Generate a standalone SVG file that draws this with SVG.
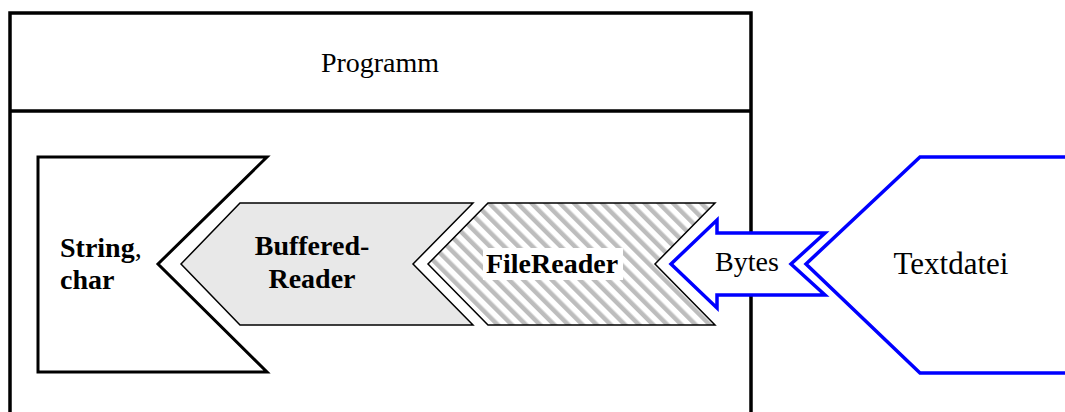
<svg xmlns="http://www.w3.org/2000/svg" width="1065" height="412" viewBox="0 0 1065 412">
  <defs>
    <pattern id="hatch" width="10" height="10" patternUnits="userSpaceOnUse" patternTransform="rotate(-45)">
      <rect width="10" height="10" fill="#ffffff"/>
      <rect x="0" y="0" width="4.5" height="10" fill="#bdbdbd"/>
    </pattern>
    <style>
      .frame { fill: none; stroke: #000; stroke-width: 3.5; }
      .serif { font-family: "Liberation Serif", "Times New Roman", serif; font-size: 28px; fill: #000; }
      .bold { font-weight: bold; }
      .big { font-size: 31px; }
      .blue { fill: #fff; stroke: #0000ff; stroke-width: 3.5; stroke-linejoin: miter; }
    </style>
  </defs>
  <rect width="1065" height="412" fill="#ffffff"/>

  <g id="programm">
    <path class="frame" d="M10,420 V13 H751 V420 M10,111 H751"/>
    <text class="serif" x="380" y="72" text-anchor="middle">Programm</text>
  </g>

  <g id="string-char">
    <polygon points="38,157 267,157 158,264 267,372 38,372" fill="#fff" stroke="#000" stroke-width="3" stroke-linejoin="miter"/>
    <text class="serif bold" x="60" y="257">String<tspan style="font-weight:normal">,</tspan></text>
    <text class="serif bold" x="60" y="289">char</text>
  </g>

  <g id="bufferedreader">
    <polygon points="240,203 473,203 413,264 473,325 240,325 181,264" fill="#e8e8e8" stroke="#000" stroke-width="1.5"/>
    <text class="serif bold" x="312" y="255" text-anchor="middle">Buffered-</text>
    <text class="serif bold" x="312" y="288" text-anchor="middle">Reader</text>
  </g>

  <g id="filereader">
    <polygon points="488,203 715,203 655,264 715,325 488,325 428,264" fill="url(#hatch)" stroke="#000" stroke-width="1.5"/>
    <rect x="483" y="248" width="140" height="32" fill="#fff"/>
    <text class="serif bold" x="552" y="273" text-anchor="middle">FileReader</text>
  </g>

  <g id="textdatei">
    <polyline points="1068,157 920,157 806,264 920,373 1068,373" class="blue"/>
    <text class="serif big" x="951" y="274" text-anchor="middle">Textdatei</text>
  </g>

  <g id="connectors">
    <g id="bytes">
      <polygon class="blue" points="671,264 717,220 717,233 825,233 791,264 825,295 717,295 717,308"/>
      <text class="serif" x="747" y="271" text-anchor="middle">Bytes</text>
    </g>
  </g>
</svg>
